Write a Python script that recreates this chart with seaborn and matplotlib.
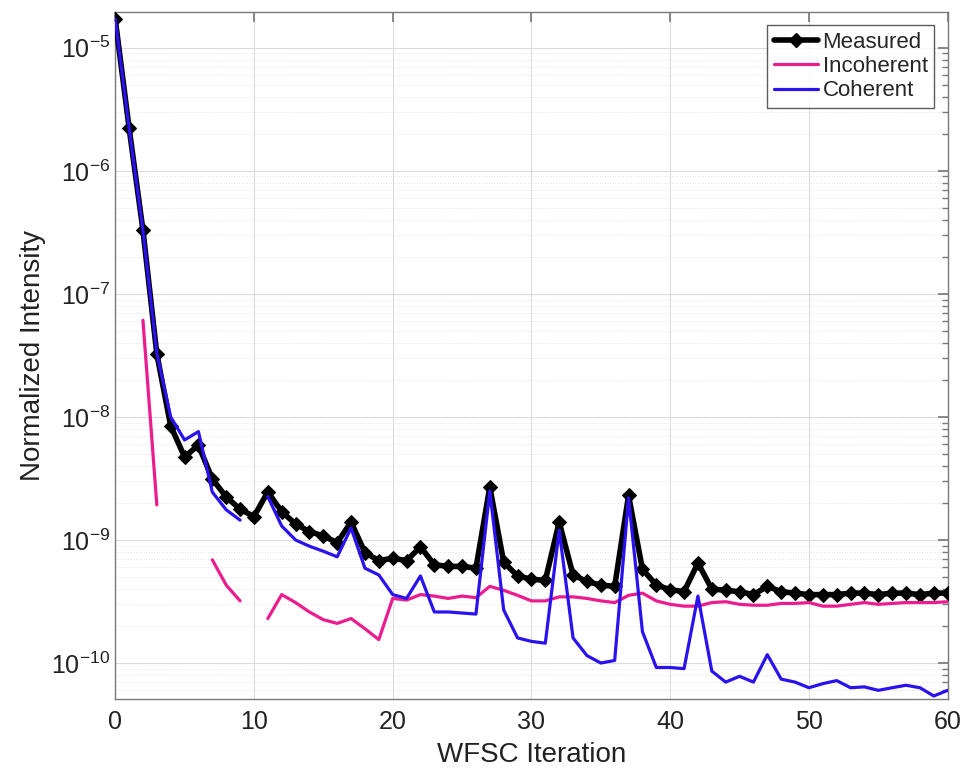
import numpy as np
import pandas as pd
import matplotlib
matplotlib.use("Agg")
import matplotlib.pyplot as plt
import seaborn as sns
from matplotlib.lines import Line2D
from matplotlib.ticker import LogLocator, NullFormatter

# --- Data ---
iterations = list(range(0, 61))
y_ticks = [1e-10, 1e-9, 1e-8, 1e-7, 1e-6, 1e-5]

measured = [
    1.72e-5, 2.24e-6, 3.3e-7, 3.25e-8, 8.45e-9, 4.73e-9, 5.9e-9, 3.13e-9, 2.24e-9, 1.78e-9,
    1.55e-9, 2.46e-9, 1.70e-9, 1.35e-9, 1.17e-9, 1.08e-9, 9.5e-10, 1.40e-9, 7.9e-10, 6.8e-10,
    7.1e-10, 6.8e-10, 8.8e-10, 6.3e-10, 6.1e-10, 6.1e-10, 5.9e-10, 2.7e-9, 6.6e-10, 5.1e-10,
    4.8e-10, 4.7e-10, 1.40e-9, 5.2e-10, 4.6e-10, 4.3e-10, 4.2e-10, 2.3e-9, 5.8e-10, 4.3e-10,
    3.95e-10, 3.8e-10, 6.5e-10, 4.0e-10, 3.9e-10, 3.8e-10, 3.6e-10, 4.2e-10, 3.8e-10, 3.7e-10,
    3.6e-10, 3.6e-10, 3.6e-10, 3.7e-10, 3.7e-10, 3.6e-10, 3.7e-10, 3.7e-10, 3.6e-10, 3.7e-10,
    3.7e-10,
]

nan = np.nan
incoherent = [
    nan, nan, 6.1e-8, 1.93e-9, nan, nan, nan, 6.9e-10, 4.3e-10, 3.2e-10,
    nan, 2.3e-10, 3.6e-10, 3.1e-10, 2.6e-10, 2.25e-10, 2.1e-10, 2.3e-10, 1.9e-10, 1.55e-10,
    3.35e-10, 3.25e-10, 3.6e-10, 3.5e-10, 3.35e-10, 3.5e-10, 3.4e-10, 4.2e-10, 3.9e-10, 3.55e-10,
    3.2e-10, 3.2e-10, 3.45e-10, 3.45e-10, 3.35e-10, 3.2e-10, 3.1e-10, 3.55e-10, 3.7e-10, 3.2e-10,
    3.0e-10, 2.9e-10, 2.9e-10, 3.1e-10, 3.15e-10, 3.0e-10, 2.95e-10, 2.95e-10, 3.05e-10, 3.05e-10,
    3.1e-10, 2.9e-10, 2.9e-10, 3.0e-10, 3.1e-10, 3.0e-10, 3.05e-10, 3.1e-10, 3.1e-10, 3.1e-10,
    3.15e-10,
]

coherent = [
    1.72e-5, 2.24e-6, 3.3e-7, 3.3e-8, 1.0e-8, 6.5e-9, 7.6e-9, 2.45e-9, 1.76e-9, 1.45e-9,
    nan, 2.25e-9, 1.3e-9, 1.0e-9, 8.9e-10, 8.1e-10, 7.3e-10, 1.25e-9, 5.9e-10, 5.2e-10,
    3.6e-10, 3.35e-10, 5.1e-10, 2.6e-10, 2.6e-10, 2.55e-10, 2.5e-10, 2.5e-9, 2.7e-10, 1.6e-10,
    1.5e-10, 1.45e-10, 1.2e-9, 1.6e-10, 1.15e-10, 1.0e-10, 1.05e-10, 2.2e-9, 1.8e-10, 9.2e-11,
    9.2e-11, 9.0e-11, 3.5e-10, 8.6e-11, 7.0e-11, 7.8e-11, 7.0e-11, 1.17e-10, 7.4e-11, 7.0e-11,
    6.3e-11, 6.8e-11, 7.2e-11, 6.3e-11, 6.4e-11, 6.0e-11, 6.3e-11, 6.6e-11, 6.3e-11, 5.4e-11,
    6.0e-11,
]

MEASURED_COLOR = "black"
INCOH_COLOR = "#ec1c8e"
COH_COLOR = "#2a12ee"


def to_segments(values):
    # split a series at NaN gaps so the line breaks like the original
    df = pd.DataFrame({"iteration": iterations, "value": values})
    df["seg"] = df["value"].isna().cumsum()
    return df.dropna()


sns.set_theme(style="white")
plt.rcParams["font.family"] = ["Liberation Sans", "DejaVu Sans"]
plt.rcParams["axes.unicode_minus"] = False
plt.rcParams["mathtext.default"] = "regular"

fig = plt.figure(figsize=(9.68, 7.73), dpi=100)
ax = fig.add_axes([0.119, 0.0957, 0.860, 0.889])

sns.lineplot(data=to_segments(measured), x="iteration", y="value", units="seg",
             estimator=None, color=MEASURED_COLOR, linewidth=4, marker="D", markersize=7,
             markeredgecolor="black", ax=ax, legend=False, zorder=3)
sns.lineplot(data=to_segments(incoherent), x="iteration", y="value", units="seg",
             estimator=None, color=INCOH_COLOR, linewidth=2.3, ax=ax, legend=False,
             zorder=4)
sns.lineplot(data=to_segments(coherent), x="iteration", y="value", units="seg",
             estimator=None, color=COH_COLOR, linewidth=2.3, ax=ax, legend=False,
             zorder=5)

ax.set_yscale("log")
ax.set_xlim(0, 60)
ax.set_ylim(5.1e-11, 1.96e-5)
ax.set_xticks(range(0, 61, 10))
ax.set_yticks(y_ticks)
ax.yaxis.set_minor_locator(LogLocator(base=10, subs=np.arange(2, 10), numticks=20))
ax.yaxis.set_minor_formatter(NullFormatter())

# MATLAB-like grid and ticks
ax.grid(True, which="major", color="#dcdcdc", linewidth=0.8, linestyle="-")
ax.grid(True, which="minor", axis="y", color="#e4e4e4", linewidth=0.7, linestyle=":")
ax.tick_params(which="both", direction="in", top=True, right=True,
               colors="#7a7a7a", labelcolor="#222222", labelsize=18)
ax.tick_params(which="major", length=7)
ax.tick_params(which="minor", length=4)
ax.tick_params(axis="x", pad=8)
for sp in ax.spines.values():
    sp.set_color("#7a7a7a")
    sp.set_linewidth(1)
ax.set_axisbelow(True)

ax.set_xlabel("WFSC Iteration", fontsize=20, color="#222222", labelpad=6)
ax.set_ylabel("Normalized Intensity", fontsize=20, color="#222222")

handles = [
    Line2D([], [], color=MEASURED_COLOR, linewidth=4, marker="D", markersize=7),
    Line2D([], [], color=INCOH_COLOR, linewidth=2.3),
    Line2D([], [], color=COH_COLOR, linewidth=2.3),
]
leg = ax.legend(handles, ["Measured", "Incoherent", "Coherent"], loc="upper right",
                fontsize=16, frameon=True, fancybox=False, handlelength=2.0,
                handletextpad=0.2, borderpad=0.3, labelspacing=0.15, borderaxespad=0.6)
leg.get_frame().set_edgecolor("#333333")
leg.get_frame().set_linewidth(1)

fig.savefig("out.png", dpi=100)
